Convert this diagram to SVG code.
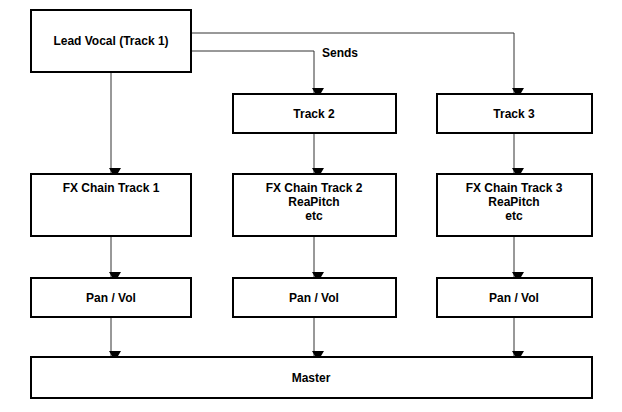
<svg xmlns="http://www.w3.org/2000/svg" width="622" height="412" viewBox="0 0 622 412">
<style>
.b{fill:#fff;stroke:#000;stroke-width:2}
.t{font-family:"Liberation Sans",Arial,sans-serif;font-weight:bold;font-size:12px;text-anchor:middle}
.c{fill:none;stroke:#333;stroke-width:1;marker-end:url(#a)}
</style>
<defs><marker id="a" markerWidth="12" markerHeight="12" refX="6" refY="10" orient="auto" markerUnits="userSpaceOnUse" viewBox="0 0 12 12"><path d="M0,0 L12,0 L6,10 Z" fill="#000" transform="rotate(-90 6 6)"/></marker></defs>
<rect width="622" height="412" fill="#fff"/>
<g id="connectors">
<path class="c" d="M111,72 V174"/>
<path class="c" d="M191,33 H514 V94"/>
<path class="c" d="M191,51 H314 V94"/>
<path class="c" d="M314,133 V174"/>
<path class="c" d="M514,133 V174"/>
<path class="c" d="M111,236 V278"/>
<path class="c" d="M314,236 V278"/>
<path class="c" d="M514,236 V278"/>
<path class="c" d="M111,317 V357"/>
<path class="c" d="M314,317 V357"/>
<path class="c" d="M514,317 V357"/>
<text class="t" x="322" y="57" style="text-anchor:start">Sends</text>
</g>
<g id="lead"><rect class="b" x="31" y="10" width="160" height="62"/><text class="t" x="111" y="45">Lead Vocal (Track 1)</text></g>
<g id="track2"><rect class="b" x="233" y="94" width="163" height="39"/><text class="t" x="314" y="118">Track 2</text></g>
<g id="track3"><rect class="b" x="437" y="94" width="155" height="39"/><text class="t" x="514" y="118">Track 3</text></g>
<g id="fx1"><rect class="b" x="31" y="174" width="160" height="62"/><text class="t" x="111" y="192">FX Chain Track 1</text></g>
<g id="fx2"><rect class="b" x="233" y="174" width="163" height="62"/><text class="t" x="314" y="192">FX Chain Track 2</text><text class="t" x="314" y="206">ReaPitch</text><text class="t" x="314" y="220">etc</text></g>
<g id="fx3"><rect class="b" x="437" y="174" width="155" height="62"/><text class="t" x="514" y="192">FX Chain Track 3</text><text class="t" x="514" y="206">ReaPitch</text><text class="t" x="514" y="220">etc</text></g>
<g id="pv1"><rect class="b" x="31" y="278" width="160" height="39"/><text class="t" x="111" y="302">Pan / Vol</text></g>
<g id="pv2"><rect class="b" x="233" y="278" width="163" height="39"/><text class="t" x="314" y="302">Pan / Vol</text></g>
<g id="pv3"><rect class="b" x="437" y="278" width="155" height="39"/><text class="t" x="514" y="302">Pan / Vol</text></g>
<g id="master"><rect class="b" x="31" y="357" width="561" height="41"/><text class="t" x="311" y="382">Master</text></g>
</svg>
